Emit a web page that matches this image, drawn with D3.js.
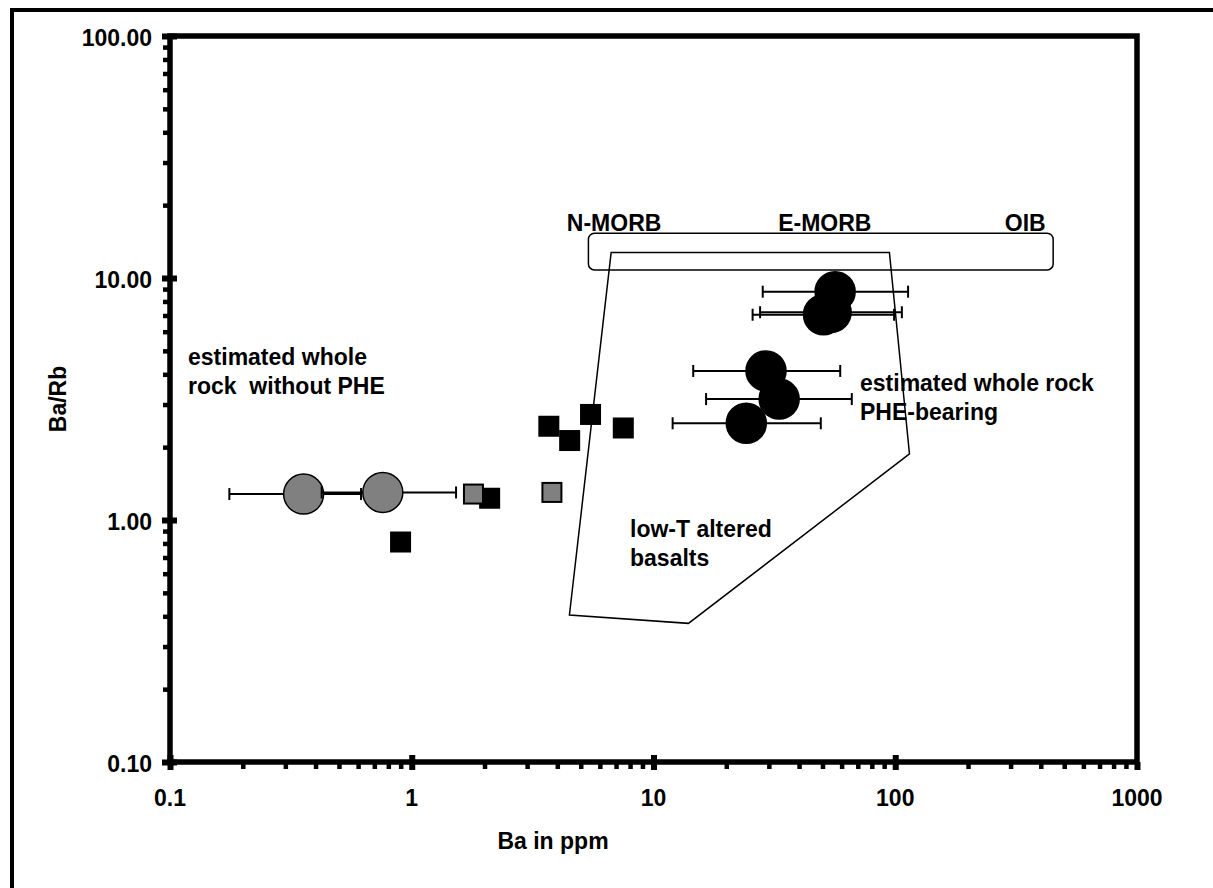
<!DOCTYPE html>
<html>
<head>
<meta charset="utf-8">
<script src="https://cdn.jsdelivr.net/npm/d3@7"></script>
<style>
  html, body { margin: 0; padding: 0; background: #fff; }
  svg text { font-family: "Liberation Sans", Arial, sans-serif; font-weight: bold; fill: #000; }
</style>
</head>
<body>
<svg id="chart" width="1213" height="888"></svg>
<script>
// Axis ticks
const xMajor = [0.1, 1, 10, 100, 1000];
const xTickLabels = ["0.1", "1", "10", "100", "1000"];
const yMajor = [0.1, 1, 10, 100];
const yTickLabels = ["0.10", "1.00", "10.00", "100.00"];

// Estimated whole rock without PHE (grey circles, Ba range as bars)
const noPheBa    = [0.357, 0.759];
const noPheRatio = [1.28, 1.30];
const noPheLow   = [0.176, 0.424];
const noPheHigh  = [0.617, 1.525];

// Estimated whole rock PHE-bearing (black circles, Ba range as bars)
const pheBa    = [56.4, 50.5, 54.3, 29.2, 33.1, 24.2];
const pheRatio = [8.78, 7.05, 7.22, 4.13, 3.16, 2.51];
const pheLow   = [28.3, 25.7, 27.6, 14.6, 16.5, 12.0];
const pheHigh  = [113, 98.9, 106.5, 59.2, 66.1, 49.2];

// Samples (black squares)
const blackSqBa    = [0.899, 2.10, 3.69, 4.50, 5.49, 7.50];
const blackSqRatio = [0.811, 1.23, 2.44, 2.13, 2.73, 2.40];

// Samples (grey squares)
const greySqBa    = [1.80, 3.80];
const greySqRatio = [1.28, 1.30];

// Low-T altered basalt field outline
const alteredBa    = [6.68, 94.6, 114.5, 13.95, 4.49];
const alteredRatio = [12.74, 12.74, 1.875, 0.374, 0.405];

// MORB–OIB band
const morbBa    = [5.38, 450];
const morbRatio = [10.8, 15.3];
const morbLabels   = ["N-MORB", "E-MORB", "OIB"];
const morbLabelBa  = [4.38, 32.8, 284];

const svg = d3.select("#chart");
const FS = 23;

const x = d3.scaleLog().domain([0.1, 1000]).range([170, 1137]);
const y = d3.scaleLog().domain([0.1, 100]).range([762, 36]);

// outer frame
svg.append("rect")
  .attr("x", 12).attr("y", 10).attr("width", 1260).attr("height", 940)
  .attr("fill", "none").attr("stroke", "#000").attr("stroke-width", 4);

// plot frame
svg.append("rect")
  .attr("x", x(0.1)).attr("y", y(100))
  .attr("width", x(1000) - x(0.1)).attr("height", y(0.1) - y(100))
  .attr("fill", "none").attr("stroke", "#000").attr("stroke-width", 5.5);

// minor ticks
const minorVals = (lo, hi) => {
  const out = [];
  for (let d = lo; d < hi; d *= 10) for (let k = 2; k <= 9; k++) out.push(+(d * k).toPrecision(3));
  return out;
};
const xMinor = minorVals(0.1, 1000);
const yMinor = minorVals(0.1, 100);

function styleAxis(g, w) {
  g.select(".domain").remove();
  g.selectAll("text").remove();
  g.selectAll("line").attr("stroke", "#000").attr("stroke-width", w);
}

svg.append("g").attr("transform", `translate(0,${y(0.1)})`)
  .call(d3.axisBottom(x).tickValues(xMinor).tickSizeInner(7).tickSizeOuter(0))
  .call(g => styleAxis(g, 4.5));
svg.append("g").attr("transform", `translate(0,${y(0.1)})`)
  .call(d3.axisBottom(x).tickValues(xMajor).tickSizeInner(8).tickSizeOuter(0))
  .call(g => styleAxis(g, 6));
svg.append("g").attr("transform", `translate(0,${y(0.1)})`)
  .call(d3.axisBottom(x).tickValues(xMajor.slice(0, 4)).tickSizeInner(-7).tickSizeOuter(0))
  .call(g => styleAxis(g, 6));

svg.append("g").attr("transform", `translate(${x(0.1)},0)`)
  .call(d3.axisLeft(y).tickValues(yMinor).tickSizeInner(7).tickSizeOuter(0))
  .call(g => styleAxis(g, 4.5));
svg.append("g").attr("transform", `translate(${x(0.1)},0)`)
  .call(d3.axisLeft(y).tickValues(yMajor).tickSizeInner(8).tickSizeOuter(0))
  .call(g => styleAxis(g, 6));
svg.append("g").attr("transform", `translate(${x(0.1)},0)`)
  .call(d3.axisLeft(y).tickValues(yMajor).tickSizeInner(-7).tickSizeOuter(0))
  .call(g => styleAxis(g, 6));

// tick labels
svg.append("g").selectAll("text").data(xMajor).join("text")
  .attr("x", d => x(d)).attr("y", y(0.1) + 44)
  .attr("text-anchor", "middle").attr("font-size", FS)
  .text((d, i) => xTickLabels[i]);
svg.append("g").selectAll("text").data(yMajor).join("text")
  .attr("x", x(0.1) - 18).attr("y", d => y(d) + 10)
  .attr("text-anchor", "end").attr("font-size", FS)
  .text((d, i) => yTickLabels[i]);

// axis titles
svg.append("text").attr("x", 553).attr("y", 849)
  .attr("text-anchor", "middle").attr("font-size", FS).text("Ba in ppm");
svg.append("text").attr("transform", `translate(66,${(y(0.1) + y(100)) / 2}) rotate(-90)`)
  .attr("text-anchor", "middle").attr("font-size", FS).text("Ba/Rb");

// MORB–OIB band
svg.append("rect")
  .attr("x", x(morbBa[0])).attr("y", y(morbRatio[1]))
  .attr("width", x(morbBa[1]) - x(morbBa[0]))
  .attr("height", y(morbRatio[0]) - y(morbRatio[1]))
  .attr("rx", 6).attr("ry", 6)
  .attr("fill", "none").attr("stroke", "#000").attr("stroke-width", 1.5);
svg.append("g").selectAll("text").data(morbLabels).join("text")
  .attr("x", (d, i) => x(morbLabelBa[i])).attr("y", y(morbRatio[1]) - 2)
  .attr("font-size", FS).text(d => d);

// altered basalt field
const line = d3.line().x(d => x(d[0])).y(d => y(d[1]));
svg.append("path")
  .datum(d3.zip(alteredBa, alteredRatio))
  .attr("d", d => line(d) + "Z")
  .attr("fill", "none").attr("stroke", "#000").attr("stroke-width", 1.5);

// field annotations
function multiline(px, py, lines) {
  const t = svg.append("text").attr("font-size", FS).style("white-space", "pre");
  lines.forEach((s, i) => t.append("tspan").attr("x", px).attr("y", py + i * 28.5).text(s));
}
multiline(188, 365, ["estimated whole", "rock  without PHE"]);
multiline(860, 391, ["estimated whole rock", "PHE-bearing"]);
multiline(630, 537, ["low-T altered", "basalts"]);

// squares
const SQ = 21;
svg.append("g").selectAll("rect").data(d3.zip(blackSqBa, blackSqRatio)).join("rect")
  .attr("x", d => x(d[0]) - SQ / 2).attr("y", d => y(d[1]) - SQ / 2)
  .attr("width", SQ).attr("height", SQ).attr("fill", "#000");
svg.append("g").selectAll("rect").data(d3.zip(greySqBa, greySqRatio)).join("rect")
  .attr("x", d => x(d[0]) - (SQ - 2) / 2).attr("y", d => y(d[1]) - (SQ - 2) / 2)
  .attr("width", SQ - 2).attr("height", SQ - 2)
  .attr("fill", "#808080").attr("stroke", "#000").attr("stroke-width", 2);

// circles with Ba range bars
const CAP = 6;
function pointsWithBars(ba, ratio, lo, hi, fill, stroke) {
  const g = svg.append("g");
  ba.forEach((b, i) => {
    const cy = y(ratio[i]);
    g.append("line").attr("x1", x(lo[i])).attr("x2", x(hi[i]))
      .attr("y1", cy).attr("y2", cy).attr("stroke", "#000").attr("stroke-width", 2);
    [lo[i], hi[i]].forEach(v => g.append("line")
      .attr("x1", x(v)).attr("x2", x(v)).attr("y1", cy - CAP).attr("y2", cy + CAP)
      .attr("stroke", "#000").attr("stroke-width", 2));
    g.append("circle").attr("cx", x(b)).attr("cy", cy).attr("r", 20)
      .attr("fill", fill).attr("stroke", stroke).attr("stroke-width", 1.5);
  });
}
pointsWithBars(noPheBa, noPheRatio, noPheLow, noPheHigh, "#808080", "#000");
pointsWithBars(pheBa, pheRatio, pheLow, pheHigh, "#000", "#000");
</script>
</body>
</html>
